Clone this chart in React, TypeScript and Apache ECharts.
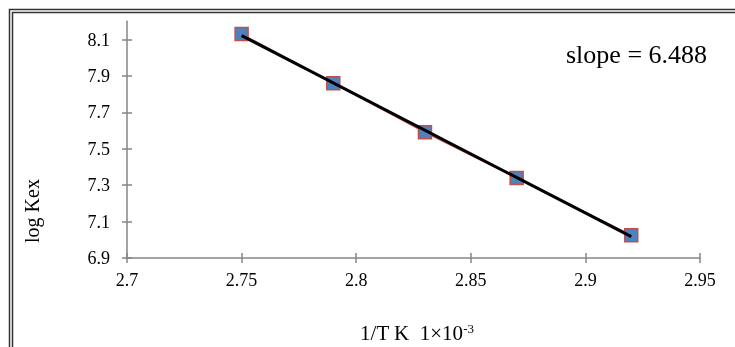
import React, { useEffect, useRef } from "react";
import * as echarts from "echarts";

const xValues = [2.75, 2.79, 2.83, 2.87, 2.92];
const logKex = [8.13, 7.86, 7.59, 7.34, 7.025];
const xTicks = [2.7, 2.75, 2.8, 2.85, 2.9, 2.95];
const yTicks = [6.9, 7.1, 7.3, 7.5, 7.7, 7.9, 8.1];
const slopeLabel = "slope = 6.488";

function fit(xs: number[], ys: number[]) {
  const n = xs.length;
  const mx = xs.reduce((a, b) => a + b, 0) / n;
  const my = ys.reduce((a, b) => a + b, 0) / n;
  let sxy = 0, sxx = 0;
  for (let i = 0; i < n; i++) {
    sxy += (xs[i] - mx) * (ys[i] - my);
    sxx += (xs[i] - mx) ** 2;
  }
  const m = sxy / sxx;
  return { m, b: my - m * mx };
}

export default function App() {
  const ref = useRef<HTMLDivElement>(null);
  useEffect(() => {
    document.body.style.margin = "0";
    const chart = echarts.init(ref.current!, null, { renderer: "svg" });
    const { m, b } = fit(xValues, logKex);
    const x0 = xValues[0];
    const x1 = xValues[xValues.length - 1];
    const font = "'Liberation Serif', 'Times New Roman', serif";
    const axisColor = "#868686";
    const common = { min: 6.9, max: 8.2 };
    chart.setOption({
      animation: false,
      grid: { left: 127, right: 35, top: 21.3, bottom: 89 },
      xAxis: [
        {
          type: "value",
          min: 2.7,
          max: 2.95,
          splitLine: { show: false },
          axisLine: { lineStyle: { color: axisColor, width: 1.5 } },
          axisTick: { customValues: xTicks, length: 5, lineStyle: { color: axisColor, width: 1.5 } },
          axisLabel: {
            customValues: xTicks,
            color: "#000",
            fontFamily: font,
            fontSize: 18,
            margin: 13,
            formatter: (v: number) => String(+v.toFixed(2)),
          },
        },
        {
          type: "value",
          position: "bottom",
          min: 2.7,
          max: 2.95,
          splitLine: { show: false },
          axisLine: { show: false },
          axisLabel: { show: false },
          axisTick: { customValues: xTicks, inside: true, length: 5, lineStyle: { color: axisColor, width: 1.5 } },
        },
      ],
      yAxis: [
        {
          type: "value",
          ...common,
          splitLine: { show: false },
          axisLine: { show: true, lineStyle: { color: axisColor, width: 1.5 } },
          axisTick: { show: true, customValues: yTicks, length: 5, lineStyle: { color: axisColor, width: 1.5 } },
          axisLabel: {
            customValues: yTicks,
            color: "#000",
            fontFamily: font,
            fontSize: 18,
            margin: 17,
            formatter: (v: number) => (+v.toFixed(1)).toFixed(1),
          },
        },
        {
          type: "value",
          position: "left",
          ...common,
          splitLine: { show: false },
          axisLine: { show: false },
          axisLabel: { show: false },
          axisTick: { show: true, inside: true, customValues: yTicks, length: 5, lineStyle: { color: axisColor, width: 1.5 } },
        },
      ],
      series: [
        {
          type: "line",
          data: xValues.map((x, i) => [x, logKex[i]]),
          symbol: "rect",
          symbolSize: 13,
          itemStyle: { color: "#4F81BD", borderColor: "#C0504D", borderWidth: 1.5 },
          lineStyle: { color: "#C0504D", width: 1.5 },
          z: 2,
        },
        {
          type: "line",
          data: [[x0, m * x0 + b], [x1, m * x1 + b]],
          symbol: "none",
          lineStyle: { color: "#000", width: 3 },
          z: 3,
        },
      ],
      graphic: [
        { type: "rect", shape: { x: 9.5, y: 9.5, width: 900, height: 500 }, style: { fill: "none", stroke: "#333", lineWidth: 1.5 } },
        { type: "rect", shape: { x: 12.5, y: 12.5, width: 900, height: 500 }, style: { fill: "none", stroke: "#333", lineWidth: 1.5 } },
        {
          type: "text",
          x: 566,
          y: 54,
          style: { text: slopeLabel, font: `26px ${font}`, fill: "#000", verticalAlign: "middle", align: "left" },
        },
        {
          type: "text",
          x: 32,
          y: 211,
          rotation: Math.PI / 2,
          style: { text: "log Kex", font: `20px ${font}`, fill: "#000", verticalAlign: "middle", align: "center" },
        },
        {
          type: "text",
          x: 417,
          y: 333,
          style: {
            text: "{a|1/T K  1×10}{s|-3}",
            fill: "#000",
            align: "center",
            verticalAlign: "middle",
            rich: {
              a: { fontFamily: font, fontSize: 21, fill: "#000", verticalAlign: "middle" },
              s: { fontFamily: font, fontSize: 13, fill: "#000", verticalAlign: "top", padding: [0, 0, 10, 0] },
            },
          },
        },
      ],
    });
    return () => chart.dispose();
  }, []);
  return <div ref={ref} style={{ position: "fixed", left: 0, top: 0, width: 735, height: 347 }} />;
}
